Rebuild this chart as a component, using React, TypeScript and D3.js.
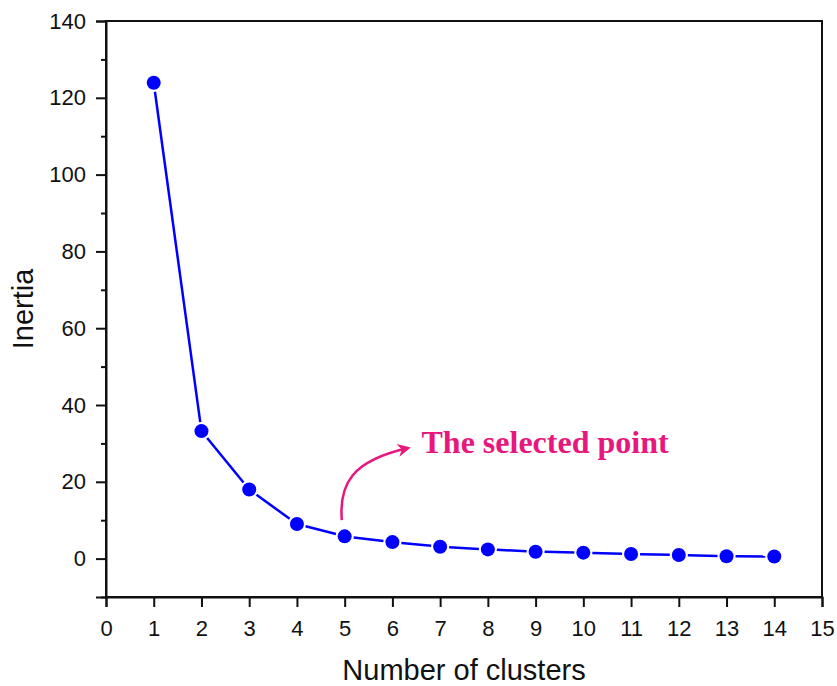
import React, { useEffect, useRef } from 'react';
import * as d3 from 'd3';

// Data
const clusters = [1, 2, 3, 4, 5, 6, 7, 8, 9, 10, 11, 12, 13, 14];
const inertia = [123.9, 33.2, 18.0, 9.0, 5.8, 4.3, 3.1, 2.4, 1.8, 1.55, 1.2, 0.95, 0.6, 0.55];
const xTicks = [0, 1, 2, 3, 4, 5, 6, 7, 8, 9, 10, 11, 12, 13, 14, 15];
const yTicks = [0, 20, 40, 60, 80, 100, 120, 140];
const yMinorTicks = [-10, 10, 30, 50, 70, 90, 110, 130];
const annotationText = 'The selected point';
// arrow path in data units: start, control 1, control 2, end
const arrowPath = [[4.94, 10.0], [4.88, 19.5], [5.15, 25.5], [6.33, 28.8]];
const annotationAnchor = [6.61, 27.5];

const App = () => {
    const svgRef = useRef<SVGSVGElement>(null);

    useEffect(() => {
        const width = 837;
        const height = 686;
        const margin = { top: 21, right: 15, bottom: 89, left: 106 };
        const blue = '#0000FF';
        const pink = '#E8177D';

        const svg = d3.select(svgRef.current)
            .attr('width', width)
            .attr('height', height);

        svg.selectAll('*').remove();

        // Scales
        const x = d3.scaleLinear().domain([0, 15]).range([margin.left, width - margin.right]);
        const y = d3.scaleLinear().domain([-10, 140]).range([height - margin.bottom, margin.top]);

        const font = 'Arial, "Liberation Sans", sans-serif';

        // Frame (top and right, no ticks)
        svg.append('rect')
            .attr('x', x(0)).attr('y', y(140))
            .attr('width', x(15) - x(0)).attr('height', y(-10) - y(140))
            .attr('fill', 'none').attr('stroke', '#111').attr('stroke-width', 2);

        // X axis
        const gx = svg.append('g')
            .attr('transform', `translate(0,${y(-10)})`)
            .call(d3.axisBottom(x).tickValues(xTicks).tickSize(10).tickPadding(13).tickFormat(d3.format('d')));
        gx.select('.domain').attr('stroke', '#111').attr('stroke-width', 2);
        gx.selectAll('.tick line').attr('stroke', '#111').attr('stroke-width', 2);
        gx.selectAll('.tick text').attr('font-family', font).attr('font-size', 22).attr('fill', '#111');

        // Y axis minor ticks
        svg.append('g')
            .attr('transform', `translate(${x(0)},0)`)
            .call(d3.axisLeft(y).tickValues(yMinorTicks).tickSize(5).tickFormat(() => ''))
            .call(g => g.select('.domain').remove())
            .selectAll('.tick line').attr('stroke', '#111').attr('stroke-width', 2);

        // Y axis
        const gy = svg.append('g')
            .attr('transform', `translate(${x(0)},0)`)
            .call(d3.axisLeft(y).tickValues(yTicks).tickSize(10).tickPadding(10).tickFormat(d3.format('d')));
        gy.select('.domain').attr('stroke', '#111').attr('stroke-width', 2);
        gy.selectAll('.tick line').attr('stroke', '#111').attr('stroke-width', 2);
        gy.selectAll('.tick text').attr('font-family', font).attr('font-size', 22).attr('fill', '#111');

        // Axis titles
        svg.append('text')
            .attr('x', (x(0) + x(15)) / 2)
            .attr('y', 680)
            .attr('text-anchor', 'middle')
            .attr('font-family', font)
            .attr('font-size', 29)
            .attr('fill', '#111')
            .text('Number of clusters');

        svg.append('text')
            .attr('transform', `translate(33,${(y(-10) + y(140)) / 2}) rotate(-90)`)
            .attr('text-anchor', 'middle')
            .attr('font-family', font)
            .attr('font-size', 29)
            .attr('fill', '#111')
            .text('Inertia');

        // Line with gaps near markers
        const r = 7;
        const gap = 2;
        const pts = clusters.map((c, i) => [x(c), y(inertia[i])]);
        const segs = d3.pairs(pts).map(([a, b]) => {
            const dx = b[0] - a[0];
            const dy = b[1] - a[1];
            const len = Math.hypot(dx, dy);
            const ux = dx / len;
            const uy = dy / len;
            const off = r + gap;
            return [[a[0] + ux * off, a[1] + uy * off], [b[0] - ux * off, b[1] - uy * off]];
        });
        svg.append('g')
            .selectAll('line')
            .data(segs)
            .join('line')
            .attr('x1', d => d[0][0]).attr('y1', d => d[0][1])
            .attr('x2', d => d[1][0]).attr('y2', d => d[1][1])
            .attr('stroke', blue)
            .attr('stroke-width', 2.5);

        // Markers
        svg.append('g')
            .attr('fill', blue)
            .selectAll('circle')
            .data(clusters)
            .join('circle')
            .attr('cx', d => x(d))
            .attr('cy', (_, i) => y(inertia[i]))
            .attr('r', r);

        // Annotation arrow
        svg.append('defs').append('marker')
            .attr('id', 'arrowhead')
            .attr('viewBox', '0 0 10 10')
            .attr('refX', 8).attr('refY', 5)
            .attr('markerWidth', 22).attr('markerHeight', 13)
            .attr('markerUnits', 'userSpaceOnUse')
            .attr('orient', 'auto')
            .append('path')
            .attr('d', 'M0,0 L10,5 L0,10 L3,5 Z')
            .attr('fill', pink);

        const ap = arrowPath.map(([a, b]) => [x(a), y(b)]);
        const path = d3.path();
        path.moveTo(ap[0][0], ap[0][1]);
        path.bezierCurveTo(ap[1][0], ap[1][1], ap[2][0], ap[2][1], ap[3][0], ap[3][1]);
        svg.append('path')
            .attr('d', path.toString())
            .attr('fill', 'none')
            .attr('stroke', pink)
            .attr('stroke-width', 2.5)
            .attr('marker-end', 'url(#arrowhead)');

        svg.append('text')
            .attr('x', x(annotationAnchor[0]))
            .attr('y', y(annotationAnchor[1]))
            .attr('font-family', '"Liberation Serif", "Times New Roman", serif')
            .attr('font-weight', 'bold')
            .attr('font-size', 32)
            .attr('fill', pink)
            .text(annotationText);
    }, []);

    return (
        <svg ref={svgRef} style={{ position: 'absolute', left: 0, top: 0, background: '#fff' }}></svg>
    );
};

export default App;
